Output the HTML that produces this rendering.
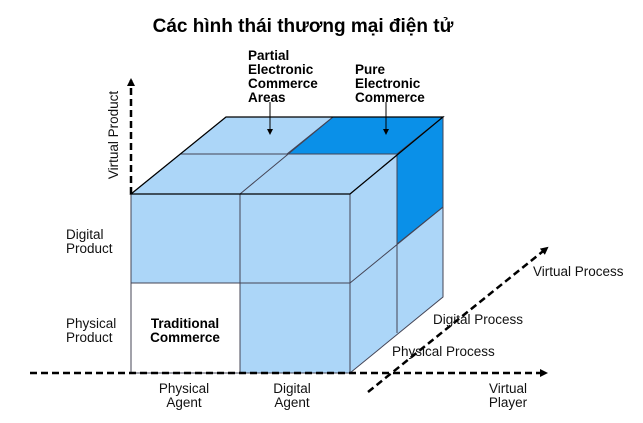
<!DOCTYPE html>
<html><head><meta charset="utf-8"><style>
body{margin:0;background:#fff;width:643px;height:423px;overflow:hidden}
svg{display:block;font-family:"Liberation Sans",Arial,sans-serif}
</style></head><body>
<svg width="643" height="423" viewBox="0 0 643 423">
<defs><marker id="ah" markerWidth="8" markerHeight="8" refX="6" refY="4" orient="auto" markerUnits="userSpaceOnUse"><path d="M0,0 L8,4 L0,8 z" fill="#000"/></marker>
<marker id="sa" markerWidth="6" markerHeight="6" refX="5" refY="3" orient="auto" markerUnits="userSpaceOnUse"><path d="M0,0 L6,3 L0,6 z" fill="#000"/></marker></defs>
<text x="303" y="32" text-anchor="middle" font-size="19" font-weight="bold" font-family="Liberation Sans, DejaVu Sans, sans-serif">Các hình thái thương mại điện tử</text>
<g stroke="#445" stroke-width="1" fill="#acd6f8">
<polygon points="131,194 226,117 443,117 350,194"/>
<polygon points="333,117 443,117 397,154 287,154" fill="#0a90e8"/>
<line x1="180" y1="154" x2="397" y2="154"/>
<line x1="333" y1="117" x2="240" y2="194"/>
<polygon points="350,194 443,117 443,297 350,373"/>
<polygon points="397,154 443,117 443,207 397,244" fill="#0a90e8"/>
<line x1="350" y1="283" x2="443" y2="207"/>
<line x1="397" y1="154" x2="397" y2="333"/>
<rect x="131" y="194" width="219" height="179"/>
<rect x="131" y="283" width="109" height="90" fill="#fff"/>
<line x1="240" y1="194" x2="240" y2="373"/>
<line x1="131" y1="283" x2="350" y2="283"/>
</g>
<polygon points="131,194 226,117 443,117 350,194" fill="none" stroke="#000" stroke-width="1.2"/>
<g stroke="#000" stroke-width="2.5" stroke-dasharray="7,4" fill="none">
<line x1="131" y1="194" x2="131" y2="80" marker-end="url(#ah)"/>
<line x1="30" y1="373" x2="546" y2="373" marker-end="url(#ah)"/>
<line x1="368" y1="392" x2="547" y2="248" marker-end="url(#ah)"/>
</g>
<g stroke="#000" stroke-width="1">
<line x1="270" y1="102" x2="270" y2="134" marker-end="url(#sa)"/>
<line x1="386" y1="102" x2="386" y2="134" marker-end="url(#sa)"/>
</g>
<g font-size="13.5" font-weight="bold" fill="#000">
<text x="248" y="60">Partial</text><text x="248" y="74">Electronic</text><text x="248" y="88">Commerce</text><text x="248" y="102">Areas</text>
<text x="355" y="74">Pure</text><text x="355" y="88">Electronic</text><text x="355" y="102">Commerce</text>
<text x="185" y="328" text-anchor="middle">Traditional</text><text x="185" y="342" text-anchor="middle">Commerce</text>
</g>
<g font-size="13.5" fill="#111">
<text x="118" y="135" text-anchor="middle" transform="rotate(-90 118 135)">Virtual Product</text>
<text x="66" y="239">Digital</text><text x="66" y="253">Product</text>
<text x="66" y="328">Physical</text><text x="66" y="342">Product</text>
<text x="184" y="393" text-anchor="middle">Physical</text><text x="184" y="407" text-anchor="middle">Agent</text>
<text x="292" y="393" text-anchor="middle">Digital</text><text x="292" y="407" text-anchor="middle">Agent</text>
<text x="508" y="393" text-anchor="middle">Virtual</text><text x="508" y="407" text-anchor="middle">Player</text>
<text x="533" y="276">Virtual Process</text>
<text x="433" y="324">Digital Process</text>
<text x="392" y="356">Physical Process</text>
</g>
</svg>
</body></html>
